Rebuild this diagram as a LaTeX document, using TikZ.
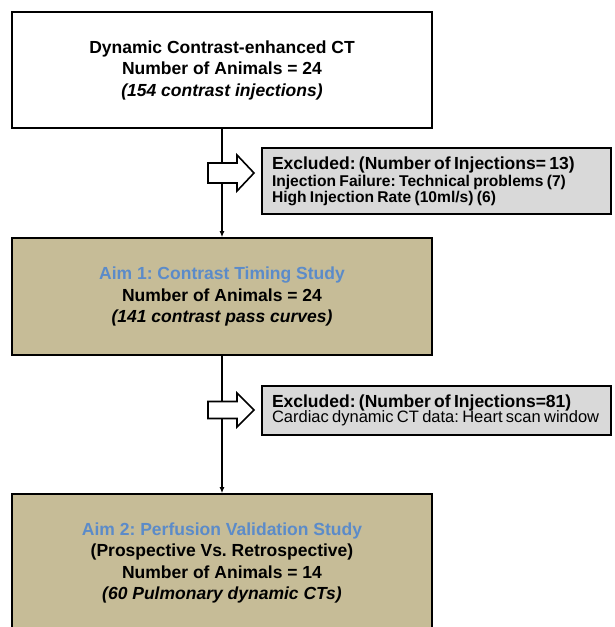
\documentclass[tikz,border=0pt]{standalone}
\usepackage{fontspec}
\setmainfont{Liberation Sans}
\usepackage{tikz}
\usetikzlibrary{arrows.meta,calc}
\frenchspacing

\definecolor{aimtan}{HTML}{C6BC97}
\definecolor{exclgray}{HTML}{D9D9D9}
\definecolor{aimblue}{HTML}{5B8BC9}

\newcommand{\exclhead}[1]{{\fontsize{17.5}{20}\selectfont\bfseries #1}}

\begin{document}
\begin{tikzpicture}[
    x=1pt, y=-1pt,
    stage/.style={draw, line width=1.6pt, fill=white, minimum width=420pt, inner sep=0pt,
      align=center, font=\fontsize{17.5}{21.5}\selectfont\bfseries},
    aim/.style={stage, fill=aimtan},
    excl/.style={draw, line width=1.4pt, fill=exclgray, text width=329pt,
      inner xsep=10pt, inner ysep=0pt, align=left},
    link/.style={line width=1.2pt, -{Latex[length=6pt,width=5pt]}},
    hollow/.style={draw, line width=1.6pt, fill=white, line join=miter}
  ]
  \useasboundingbox (0,0) rectangle (614,627);
  \clip (0,0) rectangle (614,627);

  % Boxes
  \node[stage, minimum height=116pt] (start) at (222,70)
    {Dynamic Contrast-enhanced CT\\ Number of Animals = 24\\ \textit{(154 contrast injections)}};
  \node[aim, minimum height=117pt] (aim1) at (222,296.5)
    {{\color{aimblue}Aim 1: Contrast Timing Study}\\ Number of Animals = 24\\ \textit{(141 contrast pass curves)}};
  \node[aim, minimum height=138pt] (aim2) at (222,563)
    {{\color{aimblue}Aim 2: Perfusion Validation Study}\\ (Prospective Vs. Retrospective)\\
     Number of Animals = 14\\ \textit{(60 Pulmonary dynamic CTs)}};

  % Exclusions
  \node[excl, minimum height=66pt] (excl1) at (436.5,181)
    {\exclhead{Excluded: (Number of Injections= 13)}\\[0pt]
     {\fontsize{15.6}{17.5}\selectfont\bfseries Injection Failure: Technical problems (7)\\
      High Injection Rate (10ml/s) (6)}};
  \node[excl, minimum height=49pt] (excl2) at (436.5,410.5)
    {\exclhead{Excluded: (Number of Injections=81)}\\[-1pt]
     {\fontsize{16.5}{19}\selectfont Cardiac dynamic CT data: Heart scan window}};

  % Connectors
  \draw[link] (start) -- (aim1);
  \draw[link] (aim1) -- (aim2);

  % Hollow arrows towards the exclusions
  \coordinate (k1) at (222,173);
  \coordinate (k2) at (222,410);
  \draw[hollow] ($(k1)+(-14,-10)$) -- ++(29,0) -- ++(0,-8) -- ++(17,18)
    -- ++(-17,18) -- ++(0,-8) -- ++(-29,0) -- cycle;
  \draw[hollow] ($(k2)+(-14,-8.5)$) -- ++(29,0) -- ++(0,-8.5) -- ++(17,17)
    -- ++(-17,17) -- ++(0,-8.5) -- ++(-29,0) -- cycle;
\end{tikzpicture}
\end{document}
